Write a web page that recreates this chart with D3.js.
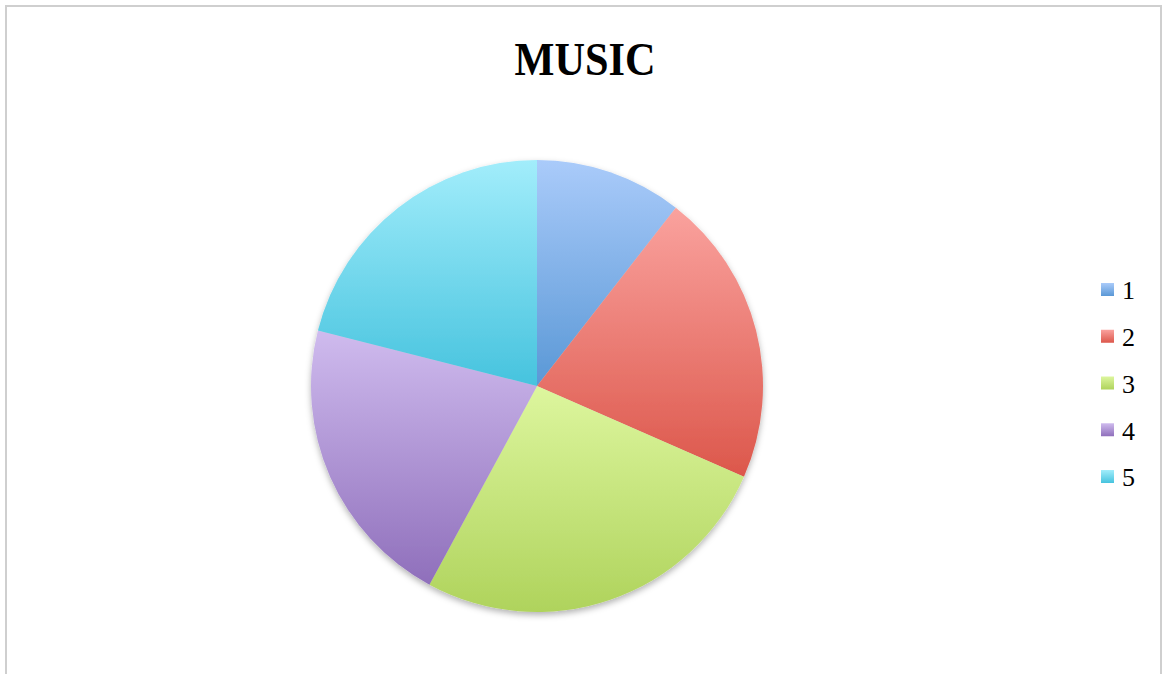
<!DOCTYPE html>
<html><head><meta charset="utf-8">
<script src="https://cdn.jsdelivr.net/npm/d3@7"></script>
<style>html,body{margin:0;padding:0;background:#fff;}svg{display:block;}</style>
</head><body>
<svg id="chart" width="1162" height="674"></svg>
<script>
const title = "MUSIC";
const categories = ["1", "2", "3", "4", "5"];
const values = [2, 4, 5, 4, 4];
const topColors = ["#aacbfa", "#faa29e", "#ddf69e", "#cfbbee", "#a2edfb"];
const bottomColors = ["#5a98d6", "#dc574b", "#afd35c", "#8f6fbb", "#46c3de"];

const svg = d3.select("#chart");
const W = 1162, H = 674;
svg.append("rect").attr("x", 6).attr("y", 6).attr("width", 1155).attr("height", 700)
  .attr("fill", "#fff").attr("stroke", "#cfcfcf").attr("stroke-width", 2);

const defs = svg.append("defs");
categories.forEach((c, i) => {
  const g = defs.append("linearGradient").attr("id", "grad" + i)
    .attr("x1", 0).attr("y1", 0).attr("x2", 0).attr("y2", 1);
  g.append("stop").attr("offset", "0%").attr("stop-color", topColors[i]);
  g.append("stop").attr("offset", "100%").attr("stop-color", bottomColors[i]);
});
const f = defs.append("filter").attr("id", "shadow").attr("x", "-10%").attr("y", "-10%").attr("width", "120%").attr("height", "125%");
f.append("feDropShadow").attr("dx", 0).attr("dy", 3).attr("stdDeviation", 3)
  .attr("flood-color", "#000").attr("flood-opacity", 0.3);

svg.append("text").text(title)
  .attr("x", 585).attr("y", 75).attr("text-anchor", "middle")
  .attr("font-family", "'Liberation Serif', 'DejaVu Serif', serif")
  .attr("font-weight", "bold").attr("font-size", 47)
  .attr("textLength", 141).attr("lengthAdjust", "spacingAndGlyphs")
  .attr("fill", "#000");

const cx = 537, cy = 386, r = 226;
const pie = d3.pie().sort(null).value(d => d)(values);
const arc = d3.arc().innerRadius(0).outerRadius(r);
const pg = svg.append("g").attr("transform", `translate(${cx},${cy})`).attr("filter", "url(#shadow)");
pg.selectAll("path").data(pie).join("path")
  .attr("d", arc)
  .attr("fill", (d, i) => `url(#grad${i})`);

const lg = svg.append("g");
const items = lg.selectAll("g").data(categories).join("g")
  .attr("transform", (d, i) => `translate(1101,${289.5 + i * 46.75})`);
items.append("rect").attr("x", 0).attr("y", -6.5).attr("width", 13).attr("height", 13)
  .attr("fill", (d, i) => `url(#grad${i})`);
items.append("text").text(d => d)
  .attr("x", 21).attr("y", 0).attr("dy", "0.38em")
  .attr("font-family", "'Liberation Serif', 'DejaVu Serif', serif")
  .attr("font-size", 26).attr("fill", "#000");
</script>
</body></html>
